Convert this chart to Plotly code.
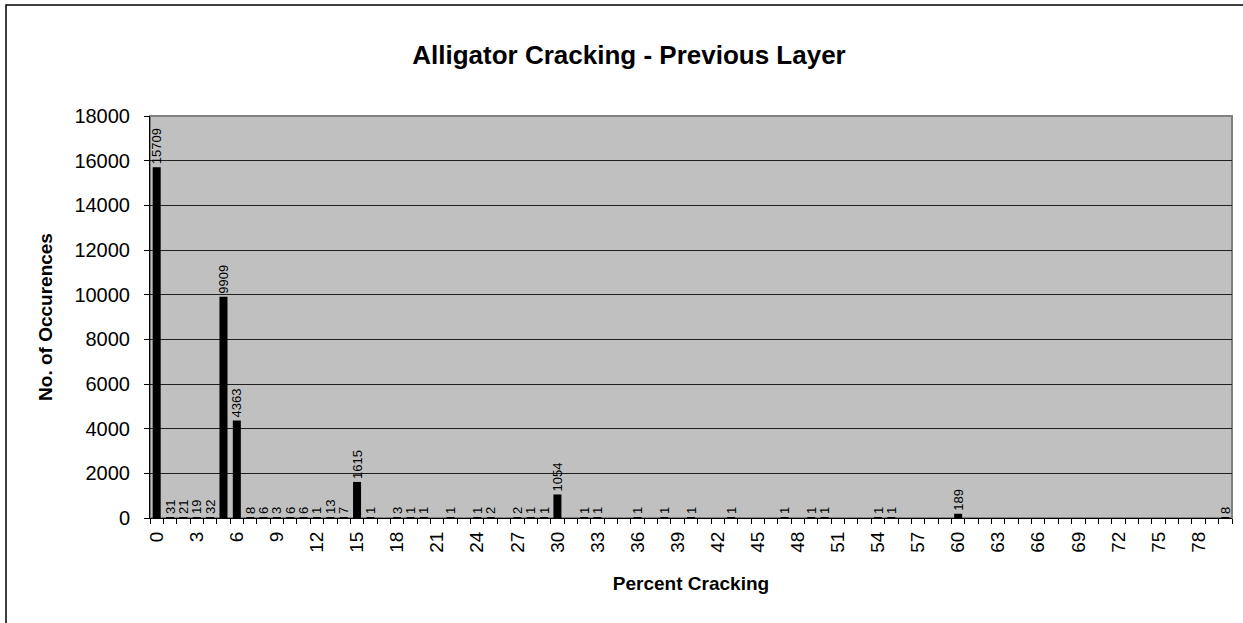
import plotly.graph_objects as go

# ---- data ----
percent_cracking = [0, 1, 2, 3, 4, 5, 6, 7, 8, 9, 10, 11, 12, 13, 14, 15, 16,
                    18, 19, 20, 22, 24, 25, 27, 28, 29, 30, 32, 33, 36, 38, 40,
                    43, 47, 49, 50, 54, 55, 60, 80]
occurrences = [15709, 31, 21, 19, 32, 9909, 4363, 8, 6, 3, 6, 6, 1, 13, 7, 1615, 1,
               3, 1, 1, 1, 1, 2, 2, 1, 1, 1054, 1, 1, 1, 1, 1,
               1, 1, 1, 1, 1, 1, 189, 8]
tick_positions = [0, 3, 6, 9, 12, 15, 18, 21, 24, 27, 30, 33, 36, 39, 42, 45, 48,
                  51, 54, 57, 60, 63, 66, 69, 72, 75, 78]
tick_labels = ["0", "3", "6", "9", "12", "15", "18", "21", "24", "27", "30", "33",
               "36", "39", "42", "45", "48", "51", "54", "57", "60", "63", "66",
               "69", "72", "75", "78"]
y_ticks = [0, 2000, 4000, 6000, 8000, 10000, 12000, 14000, 16000, 18000]
y_tick_labels = ["0", "2000", "4000", "6000", "8000", "10000", "12000", "14000",
                 "16000", "18000"]

FONT = "Liberation Sans, Arial, sans-serif"
W, H = 1243, 623
L, R, T, B = 150, 11, 116, 105
PW, PH = W - L - R, H - T - B

def px_x(px):
    return (px - L) / PW

def px_y(py):
    return (H - B - py) / PH

fig = go.Figure(go.Bar(
    x=percent_cracking,
    y=occurrences,
    width=0.6,
    marker=dict(color="black", line=dict(width=0)),
    text=[str(v) for v in occurrences],
    textposition="outside",
    textangle=-90,
    constraintext="none",
    cliponaxis=False,
    textfont=dict(family=FONT, size=13, color="black"),
))

fig.update_layout(
    width=W, height=H,
    margin=dict(l=L, r=R, t=T, b=B, autoexpand=False),
    paper_bgcolor="white",
    plot_bgcolor="#C0C0C0",
    showlegend=False,
    font=dict(family=FONT, color="black"),
    title=dict(text="<b>Alligator Cracking - Previous Layer</b>",
               x=px_x(629), xref="paper", xanchor="center",
               y=1 - 55 / H, yref="container", yanchor="middle",
               font=dict(family=FONT, size=26, color="black")),
    xaxis=dict(
        range=[-0.5, 80.5],
        tickmode="array", tickvals=tick_positions, ticktext=tick_labels,
        tickangle=-90, ticks="", showgrid=False, zeroline=False,
        showline=True, linecolor="black", linewidth=1,
        tickfont=dict(family=FONT, size=19, color="black"),
        ticklabelstandoff=5,
        minor=dict(tickmode="linear", tick0=-0.5, dtick=1, ticks="outside",
                   ticklen=5, tickcolor="black", tickwidth=1, showgrid=False),
        title=dict(text="<b>Percent Cracking</b>", standoff=24,
                   font=dict(family=FONT, size=19, color="black")),
    ),
    yaxis=dict(
        range=[0, 18000], tickmode="array", tickvals=y_ticks, ticktext=y_tick_labels,
        ticks="outside", ticklen=5, tickcolor="black",
        ticklabelstandoff=10,
        showgrid=True, gridcolor="#202020", gridwidth=1, zeroline=False,
        showline=True, linecolor="black", linewidth=1,
        tickfont=dict(family=FONT, size=20, color="black"),
        title=dict(text="<b>No. of Occurences</b>", standoff=16,
                   font=dict(family=FONT, size=19, color="black")),
    ),
    shapes=[
        dict(type="rect", xref="paper", yref="paper", x0=0, x1=1, y0=0, y1=1,
             line=dict(color="#808080", width=2), layer="below"),
        dict(type="rect", xref="paper", yref="paper",
             x0=px_x(6), x1=px_x(1260), y0=px_y(640), y1=px_y(5),
             line=dict(color="black", width=1.5), fillcolor="rgba(0,0,0,0)"),
    ],
)

fig.write_html("out.html",
               config={"displayModeBar": False},
               post_script="document.body.style.margin='0px';")
